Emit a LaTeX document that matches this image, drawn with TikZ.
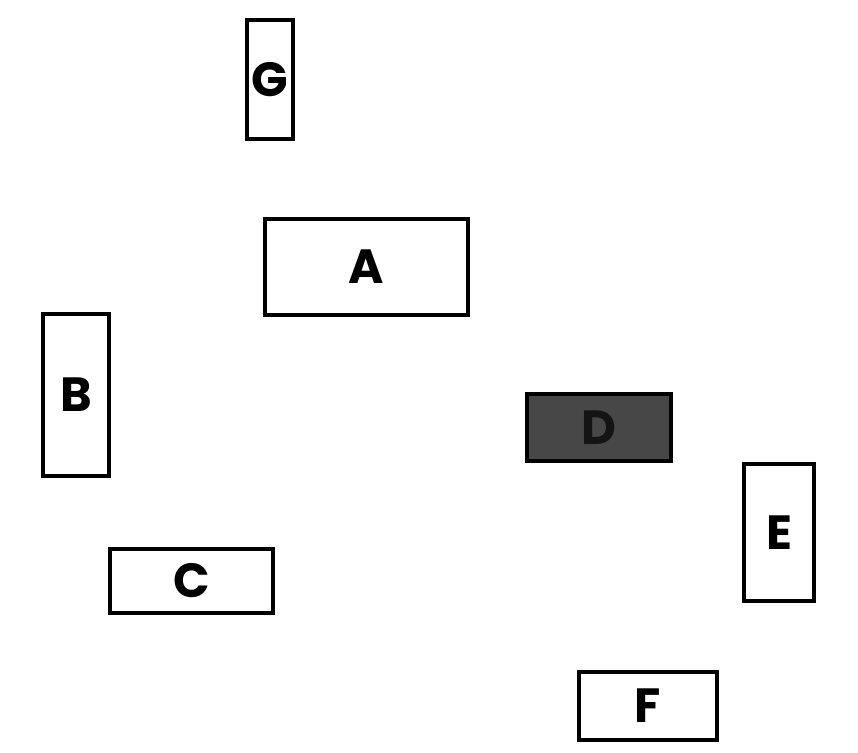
\documentclass[tikz,border=0pt]{standalone}
\usepackage{fontspec}
\setmainfont{Poppins}[BoldFont={* Bold}]
\begin{document}
\begin{tikzpicture}[x=1pt,y=-1pt,
  box/.style={draw=black,line width=4pt,rectangle,inner sep=0pt,fill=white,
    font=\fontsize{48}{48}\selectfont\bfseries},
  darkbox/.style={box,fill=black!72}]
\useasboundingbox (0,0) rectangle (858,752);
\node[box,minimum width=46pt,minimum height=119pt] (G) at (270,79.5) {G};
\node[box,minimum width=203pt,minimum height=96pt] (A) at (366.5,267) {A};
\node[box,minimum width=66pt,minimum height=162pt] (B) at (76,395) {B};
\node[darkbox,minimum width=144pt,minimum height=67pt] (D) at (599,427.5) {\textcolor{black!92}{D}};
\node[box,minimum width=70pt,minimum height=137pt] (E) at (779,532.5) {E};
\node[box,minimum width=163pt,minimum height=64pt] (C) at (191.5,581) {C};
\node[box,minimum width=138pt,minimum height=68pt] (F) at (648,706) {F};
\end{tikzpicture}
\end{document}
